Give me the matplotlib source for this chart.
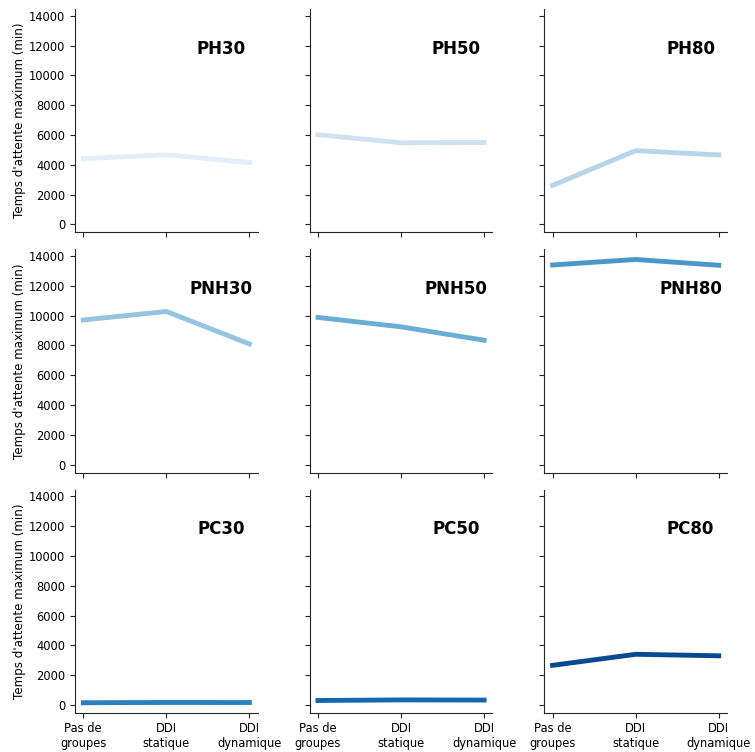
import numpy as np
import matplotlib
matplotlib.use("Agg")
import matplotlib.pyplot as plt
import seaborn as sns

# scenario names, in grid order (row by row)
scenarios = ["PH30", "PH50", "PH80",
             "PNH30", "PNH50", "PNH80",
             "PC30", "PC50", "PC80"]

strategies = ["Pas de\ngroupes", "DDI\nstatique", "DDI\ndynamique"]

# max waiting time (min) per strategy, one list per scenario
ph30 = [4420, 4670, 4150]
ph50 = [6020, 5480, 5500]
ph80 = [2620, 4950, 4660]
pnh30 = [9710, 10280, 8100]
pnh50 = [9880, 9250, 8350]
pnh80 = [13400, 13770, 13380]
pc30 = [150, 170, 165]
pc50 = [300, 340, 330]
pc80 = [2660, 3400, 3300]

values = [ph30, ph50, ph80, pnh30, pnh50, pnh80, pc30, pc50, pc80]

colors = sns.color_palette("Blues", 9)

fig, axes = plt.subplots(3, 3, figsize=(7.55, 7.52), dpi=100,
                         sharex=True, sharey=True)
plt.subplots_adjust(left=0.0993, right=0.963, bottom=0.052, top=0.988,
                    wspace=0.284, hspace=0.076)

x = np.arange(len(strategies))
for i, ax in enumerate(axes.flat):
    ax.plot(x, values[i], color=colors[i], lw=3.5)
    ax.text(0.8, 0.822, scenarios[i], transform=ax.transAxes,
            ha='center', va='center', fontsize=12, fontweight='bold')
    ax.spines['top'].set_visible(False)
    ax.spines['right'].set_visible(False)
    ax.spines['left'].set_color('#262626')
    ax.spines['bottom'].set_color('#262626')
    ax.tick_params(labelsize=8.3, colors='#262626', labelcolor='black')
    ax.tick_params(axis='x', pad=3)

axes[0, 0].set_xticks(x)
axes[0, 0].set_xticklabels(strategies, linespacing=1.15)
axes[0, 0].set_yticks(np.arange(0, 14001, 2000))

for ax in axes[:, 0]:
    ax.set_ylabel("Temps d'attente maximum (min)", fontsize=8.6, labelpad=2)

fig.savefig("out.png", dpi=100)
